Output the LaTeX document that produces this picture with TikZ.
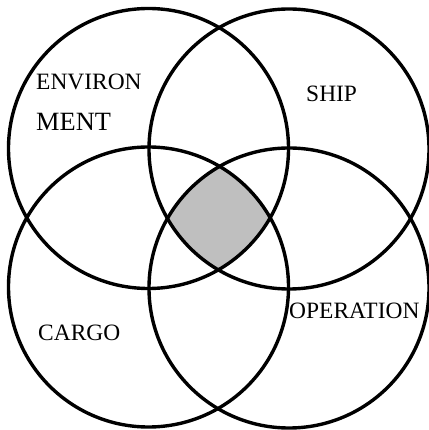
\documentclass[tikz,border=0pt]{standalone}
\usepackage{fontspec}
\setmainfont{Liberation Serif}
\usepackage{tikz}
\usetikzlibrary{positioning}

\tikzset{
  ring/.style={line width=2.9pt, black},
  lbl/.style={anchor=base west, inner sep=0pt, font=\fontsize{20}{24}\selectfont}
}

\begin{document}
\begin{tikzpicture}[x=0.03cm, y=0.03cm]
\useasboundingbox (0,0) rectangle (428,430);
% circle centres
\coordinate (env) at (148.5,281.5);
\coordinate (ship) at (289,281);
\coordinate (cargo) at (148.5,143);
\coordinate (oper) at (289,142);
% common part of all four
\begin{scope}
  \clip (env) circle[radius=140];
  \clip (ship) circle[radius=140];
  \clip (cargo) circle[radius=140];
  \fill[gray!50] (oper) circle[radius=140];
\end{scope}
\foreach \c in {env,ship,cargo,oper} \draw[ring] (\c) circle[radius=140];
% labels
\node[lbl] (envA) at (36,340) {ENVIRON};
\node[lbl, font=\fontsize{22.5}{27}\selectfont] (envB) at (36,299) {MENT};
\node[lbl] (shipL) at (306,328) {SHIP};
\node[lbl] (cargoL) at (38,89) {CARGO};
\node[lbl] (operL) at (289,111) {OPERATION};
\end{tikzpicture}
\end{document}
